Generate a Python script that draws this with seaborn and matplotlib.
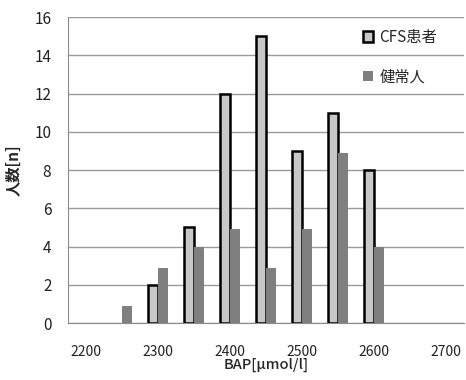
import numpy as np
import pandas as pd
import matplotlib
matplotlib.use("Agg")
import matplotlib.pyplot as plt
import seaborn as sns

categories = ["2200", "2250", "2300", "2350", "2400", "2450", "2500", "2550", "2600", "2650", "2700"]
cfs_values = [np.nan, np.nan, 2, 5, 12, 15, 9, 11, 8, np.nan, np.nan]
healthy_values = [np.nan, 0.9, 2.9, 4.0, 4.9, 2.9, 4.9, 8.9, 4.0, np.nan, np.nan]
series_names = ["CFS患者", "健常人"]
tick_labels = ["2200", "", "2300", "", "2400", "", "2500", "", "2600", "", "2700"]

df = pd.DataFrame({
    "cat": categories * 2,
    "series": [series_names[0]] * len(categories) + [series_names[1]] * len(categories),
    "value": cfs_values + healthy_values,
})

sns.set_style("white")
plt.rcParams["font.family"] = ["Noto Sans CJK JP", "DejaVu Sans"]

fig = plt.figure(figsize=(4.66, 3.8), dpi=100)
ax = fig.add_axes([0.146, 0.15, 0.85, 0.805])

sns.barplot(data=df, x="cat", y="value", hue="series", order=categories,
            hue_order=series_names, palette=["#c8c8c8", "#7f7f7f"],
            width=0.54, gap=0, ax=ax, legend=True, saturation=1)

for p in ax.containers[0]:
    p.set_edgecolor("black")
    p.set_linewidth(1.8)
for p in ax.containers[1]:
    p.set_edgecolor("none")
    p.set_linewidth(0)

ax.set_ylim(0, 16)
ax.set_xlim(-0.5, len(categories) - 0.5)
ax.set_yticks(np.arange(0, 17, 2))
ax.tick_params(axis="y", labelsize=11, length=0, pad=12, labelcolor="#222222")
ax.yaxis.grid(True, color="#9a9a9a", linewidth=1)
ax.set_axisbelow(True)

ax.set_xticks(np.arange(-0.5, len(categories), 1.0))
ax.set_xticklabels([])
ax.tick_params(axis="x", which="major", length=5, width=1, color="#8a8a8a", direction="out")
ax.set_xticks(np.arange(len(categories)), minor=True)
ax.set_xticklabels(tick_labels, minor=True)
ax.tick_params(axis="x", which="minor", length=0, labelsize=10, pad=16, labelcolor="#222222")

for s in ["top", "right"]:
    ax.spines[s].set_visible(False)
ax.spines["left"].set_color("#8a8a8a")
ax.spines["bottom"].set_color("#8a8a8a")

ax.set_xlabel("BAP[μmol/l]", fontsize=10.5, fontweight="medium", labelpad=-1)
ax.set_ylabel("人数[n]", fontsize=11, fontweight="bold", labelpad=9)

leg = ax.legend(loc="upper left", bbox_to_anchor=(0.75, 0.96), bbox_transform=fig.transFigure,
                frameon=False, fontsize=11, handlelength=0.65, handleheight=0.65,
                labelspacing=1.45, handletextpad=0.4)
leg.legend_handles[0].set_edgecolor("black")
leg.legend_handles[0].set_linewidth(1.8)
leg.legend_handles[1].set_edgecolor("none")

fig.savefig("out.png", dpi=100)
